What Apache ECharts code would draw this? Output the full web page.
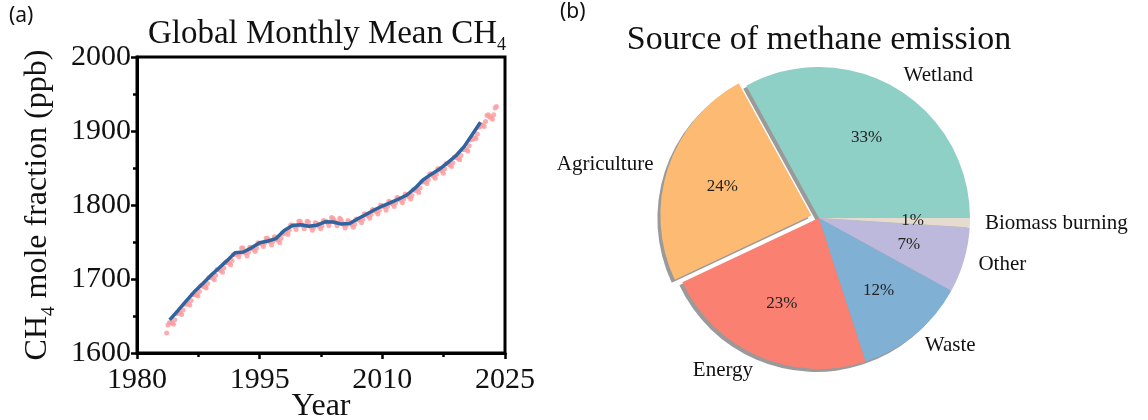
<!DOCTYPE html>
<html>
<head>
<meta charset="utf-8">
<script src="https://cdn.jsdelivr.net/npm/echarts@6/dist/echarts.min.js"></script>
<style>
html,body{margin:0;padding:0;background:#fff;}
#chart{width:1148px;height:420px;}
</style>
</head>
<body>
<div id="chart"></div>
<script>
// ---- Data (panel a): NOAA-style global monthly mean CH4 ----
const lineYears = [1984,1985,1986,1987,1988,1989,1990,1991,1992,1993,1994,1995,1996,1997,1998,1999,2000,2001,2002,2003,2004,2005,2006,2007,2008,2009,2010,2011,2012,2013,2014,2015,2016,2017,2018,2019,2020,2021,2022];
const lineValues = [1644.7,1657.3,1670.1,1682.7,1693.3,1704.5,1714.5,1724.8,1735.5,1736.5,1742.1,1749.0,1751.3,1754.6,1765.6,1772.3,1773.2,1771.2,1772.7,1777.3,1777.0,1774.2,1775.0,1781.5,1787.1,1793.2,1798.6,1803.2,1808.1,1813.5,1822.7,1834.2,1841.7,1848.6,1857.2,1866.6,1878.9,1895.3,1911.9];
// bi-monthly samples, first one Aug 1983, every two months
const dotStartYear = 1983 + 7.5 / 12;
const dotStepYears = 2 / 12;
const dotValues = [
1627,1638,1641,
1641,1641,1639,1645,1653,1654,
1654,1654,1652,1658,1666,1667,
1666,1667,1665,1671,1679,1679,
1679,1679,1677,1683,1691,1692,
1690,1690,1688,1694,1702,1702,
1702,1701,1699,1705,1713,1713,
1712,1711,1709,1715,1722,1723,
1722,1722,1719,1725,1733,1733,
1734,1733,1730,1735,1742,1742,
1736,1735,1731,1736,1743,1742,
1741,1740,1737,1742,1749,1748,
1748,1747,1744,1749,1755,1755,
1751,1750,1746,1751,1757,1756,
1753,1752,1749,1755,1762,1761,
1763,1763,1760,1766,1773,1773,
1772,1771,1767,1772,1778,1778,
1774,1772,1768,1772,1778,1777,
1772,1770,1766,1770,1776,1775,
1773,1771,1768,1772,1779,1778,
1778,1776,1772,1777,1783,1782,
1779,1776,1772,1776,1782,1780,
1776,1773,1769,1773,1779,1777,
1775,1773,1770,1774,1781,1780,
1780,1779,1776,1781,1788,1788,
1786,1785,1782,1787,1794,1793,
1792,1791,1788,1793,1800,1799,
1798,1797,1793,1798,1805,1804,
1802,1801,1798,1803,1810,1809,
1807,1806,1803,1808,1815,1814,
1812,1811,1808,1813,1821,1820,
1820,1820,1817,1823,1831,1831,
1832,1831,1829,1834,1842,1842,
1840,1839,1836,1842,1849,1849,
1847,1846,1843,1849,1856,1856,
1855,1854,1852,1857,1865,1865,
1864,1863,1861,1867,1875,1875,
1875,1875,1873,1880,1888,1889,
1890,1891,1890,1896,1905,1906,
1908,1908,1906,1913,1921,1922,
1919,1919,1916,1922,1931,1933
];
const xMin = 1980, xMax = 2025, xInterval = 15;
const yMin = 1600, yMax = 2000, yInterval = 100;

// ---- Data (panel b): sources of methane emission ----
const pieNames = ['Wetland','Agriculture','Energy','Waste','Other','Biomass burning'];
const pieShares = [33,24,23,12,7,1];
const pieColors = ['#8ecfc6','#fdba72','#fa8072','#80b1d4','#bdb9dc','#e5dccf'];
const explodedSlice = 'Agriculture';

// ---- Chart ----
const serif = "'Liberation Serif','Times New Roman',serif";
const chart = echarts.init(document.getElementById('chart'), null, {renderer:'canvas'});

const pieCenter = [819, 218];
const pieR = 151;
const shadowShift = [-3, 3];

const mainPie = pieNames.map((n,i)=>({
  name:n, value:pieShares[i], selected: n===explodedSlice,
  itemStyle:{color:pieColors[i]}
}));
const plainPie = pieNames.map((n,i)=>({
  name:n, value:pieShares[i], selected: n===explodedSlice
}));

const pieCommon = {
  type:'pie', startAngle:0, clockwise:false,
  selectedMode:'single', selectedOffset:8,
  avoidLabelOverlap:false, silent:true,
  emphasis:{disabled:true}, animation:false
};

const option = {
  backgroundColor:'#fff',
  animation:false,
  title:[
    {text:'(a)', left:9, top:6, padding:0, textStyle:{fontFamily:"'Noto Sans',sans-serif", fontSize:21, fontWeight:'normal', color:'#111'}},
    {text:'(b)', left:560, top:2, padding:0, textStyle:{fontFamily:"'Noto Sans',sans-serif", fontSize:21, fontWeight:'normal', color:'#111'}},
    {text:'{t|Global Monthly Mean CH}{s|4}', left:327, textAlign:'center', top:14, padding:0,
     textStyle:{fontWeight:'normal', rich:{
       t:{fontFamily:serif, fontSize:33, fontWeight:'normal', lineHeight:40, color:'#111'},
       s:{fontFamily:serif, fontSize:18, fontWeight:'normal', lineHeight:20, padding:[23,0,0,0], color:'#111'}
     }}},
    {text:'Source of methane emission', left:819, textAlign:'center', top:20, padding:0,
     textStyle:{fontFamily:serif, fontSize:34, fontWeight:'normal', lineHeight:40, color:'#111'}}
  ],
  grid:{left:137, top:57, width:368, height:296, show:true, borderColor:'#000', borderWidth:3, backgroundColor:'transparent', containLabel:false, outerBoundsMode:'none'},
  xAxis:{
    type:'value', min:xMin, max:xMax, interval:xInterval,
    name:'Year', nameLocation:'middle', nameGap:38, nameMoveOverlap:false,
    nameTextStyle:{fontFamily:serif, fontSize:32, color:'#111'},
    axisLine:{show:true, lineStyle:{color:'#000', width:3}},
    axisTick:{show:true, length:6, lineStyle:{color:'#000', width:2.5}},
    minorTick:{show:true, splitNumber:2, length:4, lineStyle:{color:'#000', width:2.5}},
    axisLabel:{fontFamily:serif, fontSize:30, color:'#111', margin:12, formatter:(v)=>String(v)},
    splitLine:{show:false}
  },
  yAxis:{
    type:'value', min:yMin, max:yMax, interval:yInterval,
    name:'{t|CH}{s|4}{t| mole fraction (ppb)}', nameLocation:'middle', nameGap:80, nameMoveOverlap:false,
    nameTextStyle:{rich:{
      t:{fontFamily:serif, fontSize:32, lineHeight:38, color:'#111'},
      s:{fontFamily:serif, fontSize:19, lineHeight:20, padding:[22,0,0,0], color:'#111'}
    }},
    axisLine:{show:true, lineStyle:{color:'#000', width:3}},
    axisTick:{show:true, length:6, lineStyle:{color:'#000', width:2.5}},
    minorTick:{show:true, splitNumber:2, length:4, lineStyle:{color:'#000', width:2.5}},
    axisLabel:{fontFamily:serif, fontSize:30, color:'#111', margin:6, formatter:(v)=>String(v)},
    splitLine:{show:false}
  },
  series:[
    {
      type:'scatter', name:'monthly',
      data: dotValues.map((v,i)=>[dotStartYear + i*dotStepYears, v]),
      symbol:'circle', symbolSize:5,
      itemStyle:{color:'#fb9fa0', opacity:0.85},
      silent:true, z:2
    },
    {
      type:'line', name:'annual',
      data: lineYears.map((y,i)=>[y, lineValues[i]]),
      showSymbol:false, symbol:'none',
      lineStyle:{color:'#2f64a0', width:3.5},
      silent:true, z:3
    },
    Object.assign({}, pieCommon, {
      name:'shadow',
      center:[pieCenter[0]+shadowShift[0], pieCenter[1]+shadowShift[1]], radius:pieR,
      itemStyle:{color:'rgba(120,120,120,0.75)'},
      label:{show:false}, labelLine:{show:false},
      data: plainPie, z:1
    }),
    Object.assign({}, pieCommon, {
      name:'sources',
      center:pieCenter, radius:pieR,
      label:{show:true, position:'outside', formatter:'{b}', fontFamily:serif, fontSize:21, color:'#111', distanceToLabelLine:0, overflow:'none'},
      labelLine:{show:false, length:15, length2:0},
      data: mainPie, z:2
    }),
    Object.assign({}, pieCommon, {
      name:'percent',
      center:pieCenter, radius:pieR*1.2,
      itemStyle:{color:'rgba(0,0,0,0)'},
      label:{show:true, position:'inside', formatter:(p)=>p.value+'%', fontFamily:serif, fontSize:17, color:'#222'},
      labelLine:{show:false},
      data: plainPie, z:3
    })
  ]
};
chart.setOption(option);
</script>
</body>
</html>
